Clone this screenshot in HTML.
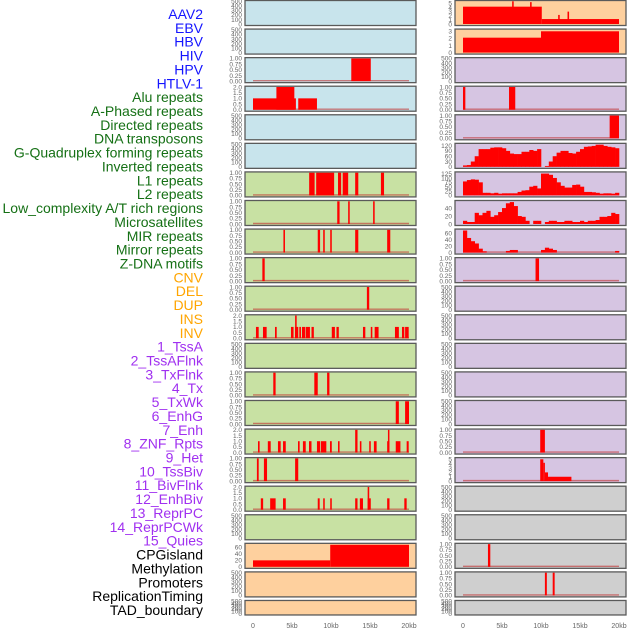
<!DOCTYPE html>
<html><head><meta charset="utf-8"><style>
html,body{margin:0;padding:0;background:#fff;width:630px;height:630px;overflow:hidden}
svg{display:block;font-family:"Liberation Sans",sans-serif}
</style></head><body>
<svg id="chart" width="630" height="630" viewBox="0 0 630 630"></svg>
<script>
// ---- labels ----
const labelNames = ["AAV2","EBV","HBV","HIV","HPV","HTLV-1","Alu repeats","A-Phased repeats","Directed repeats","DNA transposons","G-Quadruplex forming repeats","Inverted repeats","L1 repeats","L2 repeats","Low_complexity A/T rich regions","Microsatellites","MIR repeats","Mirror repeats","Z-DNA motifs","CNV","DEL","DUP","INS","INV","1_TssA","2_TssAFlnk","3_TxFlnk","4_Tx","5_TxWk","6_EnhG","7_Enh","8_ZNF_Rpts","9_Het","10_TssBiv","11_BivFlnk","12_EnhBiv","13_ReprPC","14_ReprPCWk","15_Quies","CPGisland","Methylation","Promoters","ReplicationTiming","TAD_boundary"];
const labelGroups = ["b","b","b","b","b","b","g","g","g","g","g","g","g","g","g","g","g","g","g","o","o","o","o","o","p","p","p","p","p","p","p","p","p","p","p","p","p","p","p","k","k","k","k","k"];
const xTickValues = [0,5,10,15,20];
const xTickLabels = ["0","5kb","10kb","15kb","20kb"];

// ---- interval data [startKb, endKb, value] ----
const hbvIntervals = [[12.6,15.1,1]];
const hivIntervals = [[0,5.5,1],[3,5.3,2],[5.8,8.2,1]];
const aluIntervals = [[7.2,7.9,1],[8.1,10.4,1],[10.9,11.3,1],[11.5,12.2,1],[13.1,13.5,1],[16.4,16.8,1]];
const aphasedIntervals = [[10.8,11.1,1],[12.2,12.4,1],[15.4,15.6,1]];
const directedIntervals = [[3.9,4.1,1],[8.3,8.6,1],[9.0,9.2,1],[9.9,10.1,1],[13.1,13.5,1],[17.2,17.6,1]];
const dnaTransIntervals = [[1.2,1.5,1]];
const gquadIntervals = [[14.6,14.9,1]];
const invertedIntervals = [[0.38,0.73,1],[1.28,1.75,1],[2.82,3.04,1],[4.87,5.2,1],[5.38,5.8,1],[5.4,5.6,2],[5.94,6.15,1],[6.28,6.67,1],[6.75,7.3,1],[7.5,7.8,1],[10.1,10.5,1],[10.7,11.0,1],[14.1,14.4,1],[15.1,15.3,1],[15.6,16.1,1],[18.2,18.7,1],[19.1,19.4,1],[19.5,19.96,1]];
const l2Intervals = [[2.6,2.9,1],[7.86,8.3,1],[9.5,9.8,1]];
const lowCompIntervals = [[18.3,18.7,1],[19.5,20.0,1]];
const microIntervals = [[0.64,0.85,1],[1.9,2.27,1],[3.2,3.55,1],[3.85,4.2,1],[5.77,5.98,1],[6.4,6.76,1],[7.18,7.5,1],[8.2,8.6,1],[8.7,9.4,1],[9.87,10.1,1],[10.9,11.1,1],[13.1,13.4,2],[13.7,13.9,1],[14.9,15.1,1],[15.5,15.85,1],[17.2,17.5,1],[17.3,17.45,2],[18.3,18.9,1],[19.7,19.96,1]];
const mirIntervals = [[0.5,0.73,1],[1.4,1.8,1],[5.4,5.8,1]];
const mirrorIntervals = [[1.0,1.3,1],[2.2,2.9,1],[3.85,4.2,1],[8.3,8.55,1],[9.0,9.2,1],[9.9,10.1,1],[13.1,13.4,1],[13.7,14.1,1],[14.7,15.1,1],[14.7,14.9,2],[17.2,17.5,1],[19.4,19.7,1]];
const cnvIntervals = [[0,9.9,20],[9.9,20,68]];
const insIntervals = [[0,10.1,4.2],[10.1,20,1.2],[6.3,6.5,5.5],[8.6,8.8,5.3],[12.2,12.4,2.2],[13.4,13.6,3]];
const invIntervals = [[0,10,2.1],[10,20,3]];
const tssaflnkIntervals = [[0,0.3,1],[5.9,6.7,1]];
const txflnkIntervals = [[18.8,20,1]];
const znfIntervals = [[9.3,9.75,1]];
const tssbivIntervals = [[9.9,10.5,1]];
const bivflnkIntervals = [[9.9,10.3,5],[10.3,10.5,4.2],[10.5,10.9,2],[10.9,13.9,1]];
const methylIntervals = [[3.2,3.5,1]];
const promoterIntervals = [[10.5,10.75,1],[11.5,11.75,1]];

// ---- binned data (0.5kb bins, 0..20kb) ----
const txBins = [8,10,30,60,100,100,100,108,110,110,105,90,75,72,72,85,85,95,90,100,0,5,30,60,80,90,90,78,75,85,100,113,115,118,125,125,118,113,110,105];
const txwkBins = [80,88,92,90,75,15,15,12,15,10,12,12,12,12,20,28,30,50,55,40,125,125,118,100,75,55,45,45,60,62,50,20,20,18,15,10,12,12,10,15];
const enhgBins = [8,5,5,28,22,28,33,18,22,30,40,52,55,45,20,18,8,0,8,8,0,5,8,8,5,5,8,8,5,5,8,5,8,8,10,18,18,20,28,25];
const enhBins = [68,45,35,28,12,4,0,0,0,0,0,5,8,8,0,0,0,0,0,0,8,15,12,8,0,0,0,0,0,0,0,0,0,0,0,0,0,0,0,5];

// ---- panel tick sets ----
const ticksEmpty = [0,100,200,300,400,500];
const ticksUnit = [0,0.25,0.5,0.75,1.0];
const ticksTwo = [0,0.5,1.0,1.5,2.0];

const C={blue:"#c8e4ec",green:"#c8e1a3",peach:"#fed09e",lav:"#d6c5e2",gray:"#cfcfcf"};
// panel specs: [name, fill, kind, data, ymax, ticks, decimals, baseline]
const leftPanels=[
 ["aav2",C.blue,"e"],["ebv",C.blue,"e"],
 ["hbv",C.blue,"i",hbvIntervals,1,ticksUnit,2,1],
 ["hiv",C.blue,"i",hivIntervals,2,ticksTwo,1,1],
 ["hpv",C.blue,"e"],["htlv1",C.blue,"e"],
 ["alu",C.green,"i",aluIntervals,1,ticksUnit,2,1],
 ["a-phased",C.green,"i",aphasedIntervals,1,ticksUnit,2,1],
 ["directed",C.green,"i",directedIntervals,1,ticksUnit,2,1],
 ["dna-transposons",C.green,"i",dnaTransIntervals,1,ticksUnit,2,1],
 ["g-quadruplex",C.green,"i",gquadIntervals,1,ticksUnit,2,1],
 ["inverted",C.green,"i",invertedIntervals,2,ticksTwo,1,1],
 ["l1",C.green,"e"],
 ["l2",C.green,"i",l2Intervals,1,ticksUnit,2,1],
 ["low-complexity",C.green,"i",lowCompIntervals,1,ticksUnit,2,1],
 ["microsatellites",C.green,"i",microIntervals,2,ticksTwo,1,1],
 ["mir",C.green,"i",mirIntervals,1,ticksUnit,2,1],
 ["mirror",C.green,"i",mirrorIntervals,2,ticksTwo,1,1],
 ["z-dna",C.green,"e"],
 ["cnv",C.peach,"i",cnvIntervals,70,[0,20,40,60],0,0],
 ["del",C.peach,"e"],["dup",C.peach,"e"]];
const rightPanels=[
 ["ins",C.peach,"i",insIntervals,5.5,[0,1,2,3,4,5],0,0],
 ["inv",C.peach,"i",invIntervals,3.2,[0,1,2,3],0,0],
 ["tssa",C.lav,"e"],
 ["tssaflnk",C.lav,"i",tssaflnkIntervals,1,ticksUnit,2,1],
 ["txflnk",C.lav,"i",txflnkIntervals,1,ticksUnit,2,1],
 ["tx",C.lav,"b",txBins,128,[0,30,60,90,120],0,0],
 ["txwk",C.lav,"b",txwkBins,130,[0,25,50,75,100,125],0,0],
 ["enhg",C.lav,"b",enhgBins,57,[0,20,40],0,0],
 ["enh",C.lav,"b",enhBins,70,[0,20,40,60],0,1],
 ["znf",C.lav,"i",znfIntervals,1,ticksUnit,2,1],
 ["het",C.lav,"e"],["r11",C.lav,"e"],["r12",C.lav,"e"],["r13",C.lav,"e"],["r14",C.lav,"e"],
 ["tssbiv",C.lav,"i",tssbivIntervals,1,ticksUnit,2,1],
 ["bivflnk",C.lav,"i",bivflnkIntervals,5.2,[0,1,2,3,4,5],0,1],
 ["cpgisland",C.gray,"e"],["r18",C.gray,"e"],
 ["methylation",C.gray,"i",methylIntervals,1,ticksUnit,2,1],
 ["promoters",C.gray,"i",promoterIntervals,1,ticksUnit,2,1],
 ["tad",C.gray,"e"]];

const NS="http://www.w3.org/2000/svg";
const svg=document.getElementById("chart");
function mk(tag,attrs,parent){const e=document.createElementNS(NS,tag);for(const k in attrs)e.setAttribute(k,attrs[k]);(parent||svg).appendChild(e);return e;}

// labels
const labelColors={b:"#1515ff",g:"#157015",o:"#ffa500",p:"#a030f0",k:"#000"};
labelNames.forEach((n,i)=>{
 const t=mk("text",{x:203,y:19+i*13.86,"text-anchor":"end","font-size":"14",fill:labelColors[labelGroups[i]]});
 t.textContent=n;
 
 
});

function drawColumn(panels,boxX,x0){
 const boxW=171, kbW=7.8;
 const xs=kb=>x0+kb*kbW;
 panels.forEach((p,i)=>{
  const top=0.5+i*28.57, h=(i===21)?14.5:25;
  const g=mk("g",{});
  
  
  mk("rect",{x:boxX,y:top,width:boxW,height:h,fill:p[1],stroke:"#5a5a5a","stroke-width":1.3},g);
  const kind=p[2];
  const ymax=kind==="e"?500:p[4];
  const ticks=kind==="e"?ticksEmpty:p[5];
  const dec=kind==="e"?0:p[6];
  const yb=top+h-1.5, yt=top+0.8;
  const ys=v=>yb-(v/ymax)*(yb-yt);
  ticks.forEach(v=>{
   const t=mk("text",{x:boxX-3,y:ys(v)+2.3,"text-anchor":"end","font-size":kind==="e"?"6.5":"6.5",fill:"#666"},g);
   t.textContent=v.toFixed(dec);
  });
  if(kind!=="e"&&p[7]){
   mk("line",{x1:xs(0),x2:xs(20),y1:yb-0.5,y2:yb-0.5,stroke:"#c03030","stroke-width":1.4,opacity:0.6},g);
  }
  if(kind==="i"){
   p[3].forEach(d=>{
    const r=mk("rect",{x:xs(d[0]),y:ys(d[2]),width:Math.max(1.5,xs(d[1])-xs(d[0])),height:yb-ys(d[2]),fill:"#ff0000"},g);
    
    
   });
  } else if(kind==="b"){
   p[3].forEach((v,j)=>{
    if(v<=0)return;
    const r=mk("rect",{x:xs(j*0.5),y:ys(v),width:xs(0.5)-xs(0)+0.3,height:yb-ys(v),fill:"#ff0000"},g);
    
    
   });
  }
 });
 xTickValues.forEach((v,k)=>{
  const t=mk("text",{x:xs(v),y:628,"text-anchor":"middle","font-size":"7",fill:"#666"});
  t.textContent=xTickLabels[k];
  
  
 });
}
drawColumn(leftPanels,245,253);
drawColumn(rightPanels,455,463);
</script>
</body></html>
